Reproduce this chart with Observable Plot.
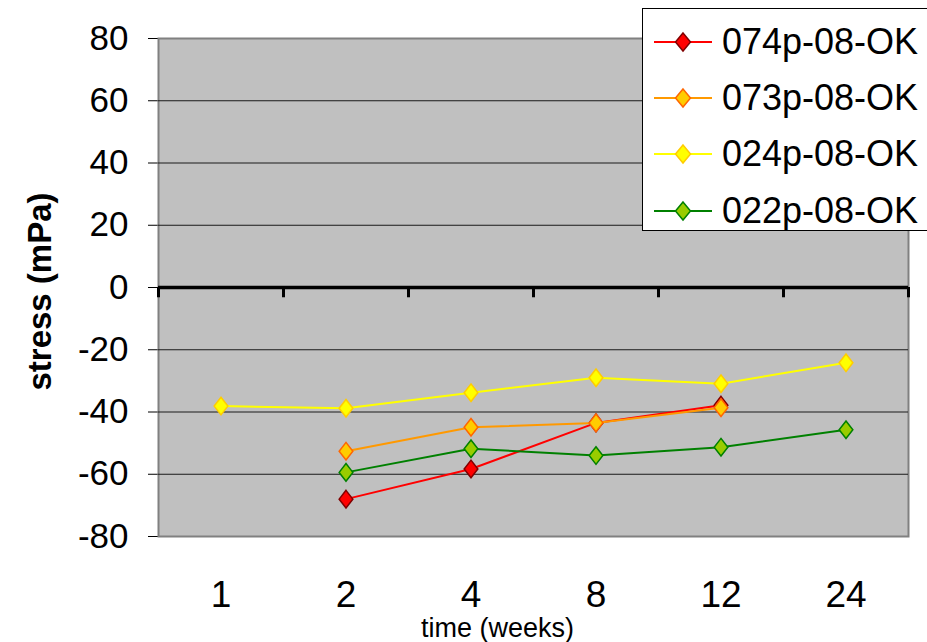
<!DOCTYPE html>
<html>
<head>
<meta charset="utf-8">
<script src="https://cdn.jsdelivr.net/npm/d3@7"></script>
<script src="https://cdn.jsdelivr.net/npm/@observablehq/plot@0.6"></script>
<style>
  html, body { margin: 0; padding: 0; background: #fff; overflow: hidden; }
  #wrap { position: relative; width: 927px; height: 642px; font-family: "Liberation Sans", Arial, sans-serif; }
  #wrap svg { font-family: "Liberation Sans", Arial, sans-serif; }
  [aria-label="y-axis tick label"], [aria-label="y-axis"] text { font-size: 35px; }
  #legend { position: absolute; left: 642px; top: 8px; width: 300px; height: 223px; border: 1px solid #000; background: #fff; box-sizing: border-box; }
  .entry { position: absolute; left: 0; height: 40px; display: flex; align-items: center; }
  .entry svg { display: block; }
  .entry span { font-size: 36px; color: #000; margin-left: 8px; white-space: nowrap; }
</style>
</head>
<body>
<div id="wrap"></div>
<script>
const weeks = ["1", "2", "4", "8", "12", "24"];
const seriesNames = ["074p-08-OK", "073p-08-OK", "024p-08-OK", "022p-08-OK"];
const s074 = [null, -68, -58.3, -43.5, -37.8, null];
const s073 = [null, -52.6, -44.9, -43.5, -38.6, null];
const s024 = [-38.1, -38.8, -33.8, -29.0, -30.9, -24.2];
const s022 = [null, -59.4, -51.8, -54.0, -51.3, -45.7];
const yTicks = [-80, -60, -40, -20, 0, 20, 40, 60, 80];

const lineColors = ["#ff0000", "#ff9900", "#ffff00", "#008000"];
const markFill = ["#ff0000", "#ffcc00", "#ffff00", "#99cc00"];
const markStroke = ["#800000", "#ff6600", "#ffcc00", "#008000"];

// wide diamond marker (aspect 7:9 half-extents)
const wideDiamond = {
  draw(context, size) {
    const b = Math.sqrt(size * 9 / 14);
    const a = b * 7 / 9;
    context.moveTo(0, -b);
    context.lineTo(a, 0);
    context.lineTo(0, b);
    context.lineTo(-a, 0);
    context.closePath();
  }
};

const allSeries = [s074, s073, s024, s022];
const rowsBySeries = allSeries.map((vals, si) =>
  vals.map((v, i) => ({ week: weeks[i], value: v, series: seriesNames[si] })).filter(d => d.value !== null)
);

const marks = [
  Plot.frame({ fill: "#c0c0c0", stroke: "#808080", strokeWidth: 2 }),
  Plot.ruleY(yTicks.filter(t => t !== 0 && t !== -80 && t !== 80), { stroke: "#1a1a1a", strokeWidth: 1 }),
  Plot.ruleY([0], { stroke: "#000", strokeWidth: 3.5 }),
  Plot.ruleX(weeks, { x: d => d, dx: -62.5, y1: 0, y2: -3.3, stroke: "#000", strokeWidth: 3 }),
  Plot.ruleX(weeks.slice(-1), { x: d => d, dx: 62.5, y1: 0, y2: -3.3, stroke: "#000", strokeWidth: 3 }),
];
rowsBySeries.forEach((rows, si) => {
  marks.push(Plot.line(rows, { x: "week", y: "value", stroke: lineColors[si], strokeWidth: 2 }));
  marks.push(Plot.dot(rows, { x: "week", y: "value", symbol: wideDiamond, r: 6.2, fill: markFill[si], stroke: markStroke[si], strokeWidth: 1.5 }));
});
marks.push(
  Plot.text(weeks, { x: d => d, text: d => d, frameAnchor: "bottom", lineAnchor: "middle", textAnchor: "middle", dy: 59, fontSize: 37, fill: "#000" }),
  Plot.text(["time (weeks)"], { text: d => d, frameAnchor: "bottom", lineAnchor: "middle", textAnchor: "middle", dx: -36, dy: 92, fontSize: 27, fill: "#000" }),
  Plot.text(["stress (mPa)"], { text: d => d, frameAnchor: "left", textAnchor: "middle", lineAnchor: "middle", dx: -118, dy: 4, rotate: -90, fontSize: 33, fontWeight: "bold", fill: "#000" })
);

const chart = Plot.plot({
  width: 927,
  height: 642,
  marginLeft: 158,
  marginRight: 19,
  marginTop: 38,
  marginBottom: 106,
  style: { background: "transparent", color: "#000" },
  x: { type: "band", domain: weeks, padding: 0, axis: null },
  y: { domain: [-80, 80], ticks: yTicks, tickSize: 10, tickPadding: 20, tickFormat: d => String(d), label: null },
  marks
});
const wrap = document.getElementById("wrap");
wrap.appendChild(chart);

const legend = document.createElement("div");
legend.id = "legend";
const centers = [33, 89, 145, 202];
seriesNames.forEach((name, si) => {
  const e = document.createElement("div");
  e.className = "entry";
  e.style.top = (centers[si] - 20) + "px";
  e.style.left = "11px";
  e.innerHTML = `<svg width="60" height="40"><line x1="0" y1="20" x2="58" y2="20" stroke="${lineColors[si]}" stroke-width="2"/><polygon points="29,11 36.5,20 29,29 21.5,20" fill="${markFill[si]}" stroke="${markStroke[si]}" stroke-width="1.5"/></svg><span>${name}</span>`;
  legend.appendChild(e);
});
wrap.appendChild(legend);
</script>
</body>
</html>
